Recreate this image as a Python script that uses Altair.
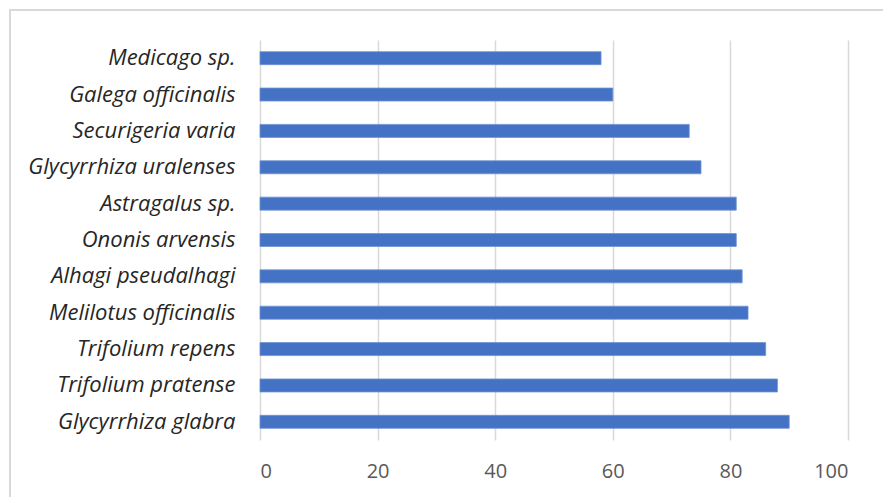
import altair as alt
import pandas as pd

# Species and their values, top to bottom
species = [
    "Medicago sp.",
    "Galega officinalis",
    "Securigeria varia",
    "Glycyrrhiza uralenses",
    "Astragalus sp.",
    "Ononis arvensis",
    "Alhagi pseudalhagi",
    "Melilotus officinalis",
    "Trifolium repens",
    "Trifolium pratense",
    "Glycyrrhiza glabra",
]
values = [58, 60, 73, 75, 81, 81, 82, 83, 86, 88, 90]
x_ticks = [0, 20, 40, 60, 80, 100]

df = pd.DataFrame({"species": species, "value": values})

FONT = "Open Sans"

# Light frame around the whole chart
frame = alt.Chart(pd.DataFrame({"k": [0]})).mark_rect(
    fillOpacity=0, stroke="#d9d9d9", strokeWidth=2
).encode(
    x=alt.value(-250), x2=alt.value(700),
    y=alt.value(-30), y2=alt.value(520),
)

bars = alt.Chart(df).mark_bar(
    size=13, color="#4472C4", stroke="#6f93d6", strokeWidth=0.8
).encode(
    x=alt.X(
        "value:Q",
        scale=alt.Scale(domain=[0, 100], nice=False),
        axis=alt.Axis(
            values=x_ticks, title=None, grid=True, gridColor="#d9d9d9",
            gridWidth=1.5, domain=False, ticks=False,
            labelFont=FONT, labelFontSize=20, labelColor="#595959",
            labelPadding=21,
        ),
    ),
    y=alt.Y(
        "species:N", sort=species,
        axis=alt.Axis(
            title=None, domain=False, ticks=False,
            labelFont=FONT, labelFontSize=22, labelFontStyle="italic",
            labelColor="#262626", labelPadding=25, labelLimit=300,
        ),
    ),
)

chart = alt.layer(frame, bars).properties(
    width=588, height=400,
    autosize=alt.AutoSizeParams(type="none"),
    padding={"left": 260, "top": 40, "right": 35, "bottom": 57},
    background="white",
).configure_view(stroke=None)

chart.save("out.html", embed_options={"renderer": "svg", "actions": False})
